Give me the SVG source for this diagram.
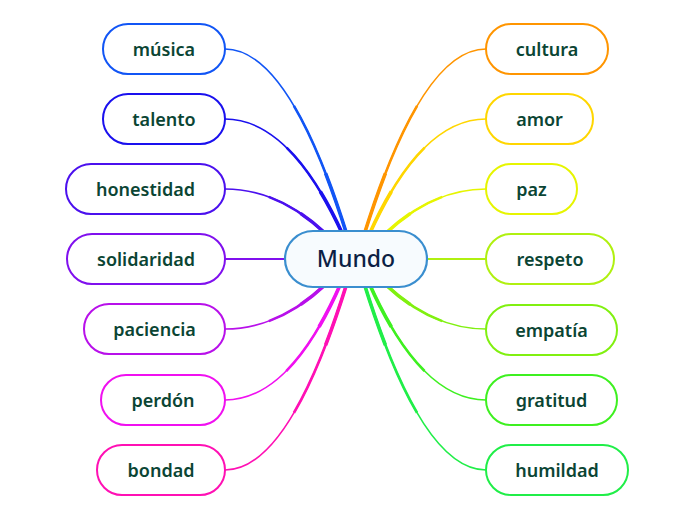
<svg xmlns="http://www.w3.org/2000/svg" xmlns:xlink="http://www.w3.org/1999/xlink" width="696" height="520" viewBox="0 0 696 520">
<style>
.n rect{fill:#ffffff;stroke-width:2}
.n text{font-family:"Noto Sans","Open Sans","DejaVu Sans",sans-serif;font-size:18px;font-weight:600;fill:#0b4534;text-anchor:middle}
#connectors use,#connectors path{fill:none}
.t1{stroke-width:1.6}
.t2{stroke-width:2.6;stroke-dasharray:0 40 60}
.t3{stroke-width:3.6;stroke-dasharray:0 72 28}
.h{stroke-width:2}
</style>
<defs>
<path id="cL1" d="M225,49 Q289,49 347,235" stroke="#1155f5" pathLength="100"/>
<path id="cL2" d="M225,119 Q290,119 343,235" stroke="#1a10ee" pathLength="100"/>
<path id="cL3" d="M225,189 Q278,189 325,233" stroke="#4b10ee" pathLength="100"/>
<path id="cL5" d="M225,329 Q278,329 325,285" stroke="#b810ea" pathLength="100"/>
<path id="cL6" d="M225,400 Q290,400 341,283" stroke="#f010f0" pathLength="100"/>
<path id="cL7" d="M225,470 Q289,470 347,283" stroke="#ff10b4" pathLength="100"/>
<path id="cR1" d="M486,49 Q422,49 364,235" stroke="#ff9500" pathLength="100"/>
<path id="cR2" d="M486,119 Q421,119 369,235" stroke="#ffd600" pathLength="100"/>
<path id="cR3" d="M486,189 Q433,189 386,233" stroke="#e6f500" pathLength="100"/>
<path id="cR5" d="M486,329 Q433,329 386,285" stroke="#80f010" pathLength="100"/>
<path id="cR6" d="M486,400 Q421,400 369,283" stroke="#3ef020" pathLength="100"/>
<path id="cR7" d="M486,470 Q422,470 364,283" stroke="#20ee48" pathLength="100"/>
</defs>
<g id="connectors">
<use xlink:href="#cL1" class="t1"/><use xlink:href="#cL1" class="t2"/><use xlink:href="#cL1" class="t3"/>
<use xlink:href="#cL2" class="t1"/><use xlink:href="#cL2" class="t2"/><use xlink:href="#cL2" class="t3"/>
<use xlink:href="#cL3" class="t1"/><use xlink:href="#cL3" class="t2"/><use xlink:href="#cL3" class="t3"/>
<path class="h" d="M225,259 L290,259" stroke="#8010ee"/>
<use xlink:href="#cL5" class="t1"/><use xlink:href="#cL5" class="t2"/><use xlink:href="#cL5" class="t3"/>
<use xlink:href="#cL6" class="t1"/><use xlink:href="#cL6" class="t2"/><use xlink:href="#cL6" class="t3"/>
<use xlink:href="#cL7" class="t1"/><use xlink:href="#cL7" class="t2"/><use xlink:href="#cL7" class="t3"/>
<use xlink:href="#cR1" class="t1"/><use xlink:href="#cR1" class="t2"/><use xlink:href="#cR1" class="t3"/>
<use xlink:href="#cR2" class="t1"/><use xlink:href="#cR2" class="t2"/><use xlink:href="#cR2" class="t3"/>
<use xlink:href="#cR3" class="t1"/><use xlink:href="#cR3" class="t2"/><use xlink:href="#cR3" class="t3"/>
<path class="h" d="M486,259 L422,259" stroke="#b0f010"/>
<use xlink:href="#cR5" class="t1"/><use xlink:href="#cR5" class="t2"/><use xlink:href="#cR5" class="t3"/>
<use xlink:href="#cR6" class="t1"/><use xlink:href="#cR6" class="t2"/><use xlink:href="#cR6" class="t3"/>
<use xlink:href="#cR7" class="t1"/><use xlink:href="#cR7" class="t2"/><use xlink:href="#cR7" class="t3"/>
</g>
<g id="mundo">
<rect x="285" y="231" width="142" height="56" rx="28" fill="#f7fbfe" stroke="#3a8ecf" stroke-width="2.2"/>
<text x="356" y="267" font-family="Noto Sans,Open Sans,DejaVu Sans,sans-serif" font-size="23" font-weight="500" fill="#0c1f45" text-anchor="middle">Mundo</text>
</g>
<g id="musica" class="n"><rect x="103" y="24" width="122" height="50" rx="25" stroke="#1155f5"/><text x="164" y="56">música</text></g>
<g id="talento" class="n"><rect x="103" y="94" width="122" height="50" rx="25" stroke="#1a10ee"/><text x="164" y="126">talento</text></g>
<g id="honestidad" class="n"><rect x="66" y="164" width="159" height="50" rx="25" stroke="#4b10ee"/><text x="145.5" y="196">honestidad</text></g>
<g id="solidaridad" class="n"><rect x="67" y="234" width="158" height="50" rx="25" stroke="#8010ee"/><text x="146" y="266">solidaridad</text></g>
<g id="paciencia" class="n"><rect x="84" y="304" width="141" height="50" rx="25" stroke="#b810ea"/><text x="154.5" y="336">paciencia</text></g>
<g id="perdon" class="n"><rect x="101" y="375" width="124" height="50" rx="25" stroke="#f010f0"/><text x="163" y="407">perdón</text></g>
<g id="bondad" class="n"><rect x="97" y="445" width="128" height="50" rx="25" stroke="#ff10b4"/><text x="161" y="477">bondad</text></g>
<g id="cultura" class="n"><rect x="486" y="24" width="122" height="50" rx="25" stroke="#ff9500"/><text x="547" y="56">cultura</text></g>
<g id="amor" class="n"><rect x="486" y="94" width="107" height="50" rx="25" stroke="#ffd600"/><text x="539.5" y="126">amor</text></g>
<g id="paz" class="n"><rect x="486" y="164" width="91" height="50" rx="25" stroke="#e6f500"/><text x="531.5" y="196">paz</text></g>
<g id="respeto" class="n"><rect x="486" y="234" width="128" height="50" rx="25" stroke="#b0f010"/><text x="550" y="266">respeto</text></g>
<g id="empatia" class="n"><rect x="486" y="305" width="131" height="50" rx="25" stroke="#80f010"/><text x="551.5" y="337">empatía</text></g>
<g id="gratitud" class="n"><rect x="486" y="375" width="131" height="50" rx="25" stroke="#3ef020"/><text x="551.5" y="407">gratitud</text></g>
<g id="humildad" class="n"><rect x="486" y="445" width="142" height="50" rx="25" stroke="#20ee48"/><text x="557" y="477">humildad</text></g>
</svg>
